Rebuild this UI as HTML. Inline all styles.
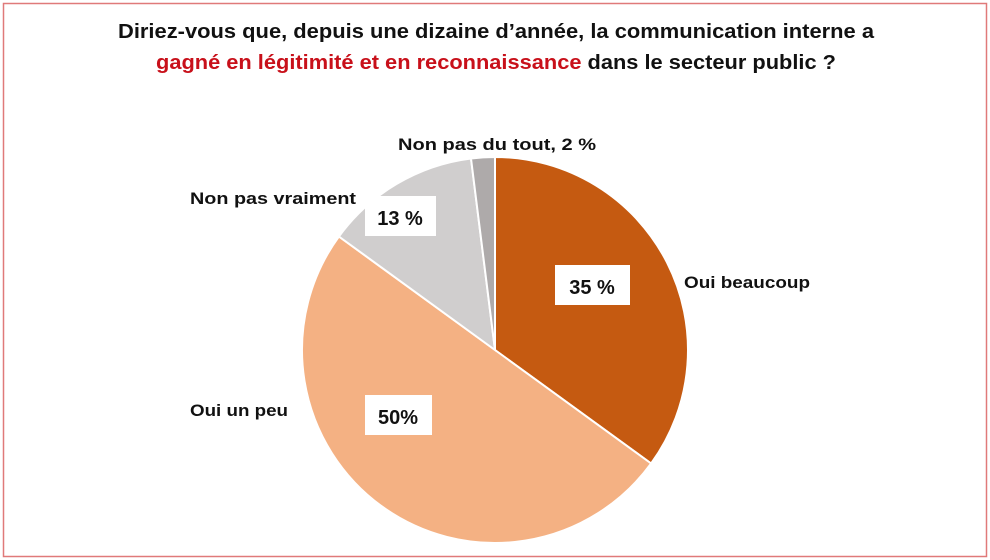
<!DOCTYPE html>
<html><head><meta charset="utf-8"><style>
html,body{margin:0;padding:0;background:#fff;}
svg{display:block;}
text{font-family:"Liberation Sans",sans-serif;font-weight:bold;}
</style></head><body>
<svg width="990" height="560" viewBox="0 0 990 560">
<rect x="3.5" y="3.5" width="983" height="553" fill="#fff" stroke="#e07a7a" stroke-width="1.5"/>
<text x="118" y="38" font-size="20.5" fill="#111" textLength="756" lengthAdjust="spacingAndGlyphs">Diriez-vous que, depuis une dizaine d’année, la communication interne a</text>
<text x="156" y="69" font-size="20.5" textLength="680" lengthAdjust="spacingAndGlyphs"><tspan fill="#c8101a">gagné en légitimité et en reconnaissance</tspan><tspan fill="#111"> dans le secteur public ?</tspan></text>
<g stroke="#fff" stroke-width="2">
<path d="M495,350 L495,157 A193,193 0 0 1 651.1,463.5 Z" fill="#c55a11"/>
<path d="M495,350 L651.1,463.5 A193,193 0 0 1 338.9,236.5 Z" fill="#f4b183"/>
<path d="M495,350 L338.9,236.5 A193,193 0 0 1 471,158.5 Z" fill="#d0cece"/>
<path d="M495,350 L471,158.5 A193,193 0 0 1 495,157 Z" fill="#aeaaaa"/>
</g>
<rect x="365" y="196" width="71" height="40" fill="#fff"/>
<text x="400" y="225" font-size="20" text-anchor="middle" fill="#111">13 %</text>
<rect x="555" y="265" width="75" height="40" fill="#fff"/>
<text x="592" y="294" font-size="20" text-anchor="middle" fill="#111">35 %</text>
<rect x="365" y="395" width="67" height="40" fill="#fff"/>
<text x="398" y="424" font-size="20" text-anchor="middle" fill="#111">50%</text>
<text x="398" y="150" font-size="17" fill="#111" textLength="198" lengthAdjust="spacingAndGlyphs">Non pas du tout,  2 %</text>
<text x="190" y="204" font-size="17" fill="#111" textLength="166" lengthAdjust="spacingAndGlyphs">Non pas vraiment</text>
<text x="684" y="288" font-size="17" fill="#111" textLength="126" lengthAdjust="spacingAndGlyphs">Oui beaucoup</text>
<text x="190" y="416" font-size="17" fill="#111" textLength="98" lengthAdjust="spacingAndGlyphs">Oui un peu</text>
</svg>
</body></html>
